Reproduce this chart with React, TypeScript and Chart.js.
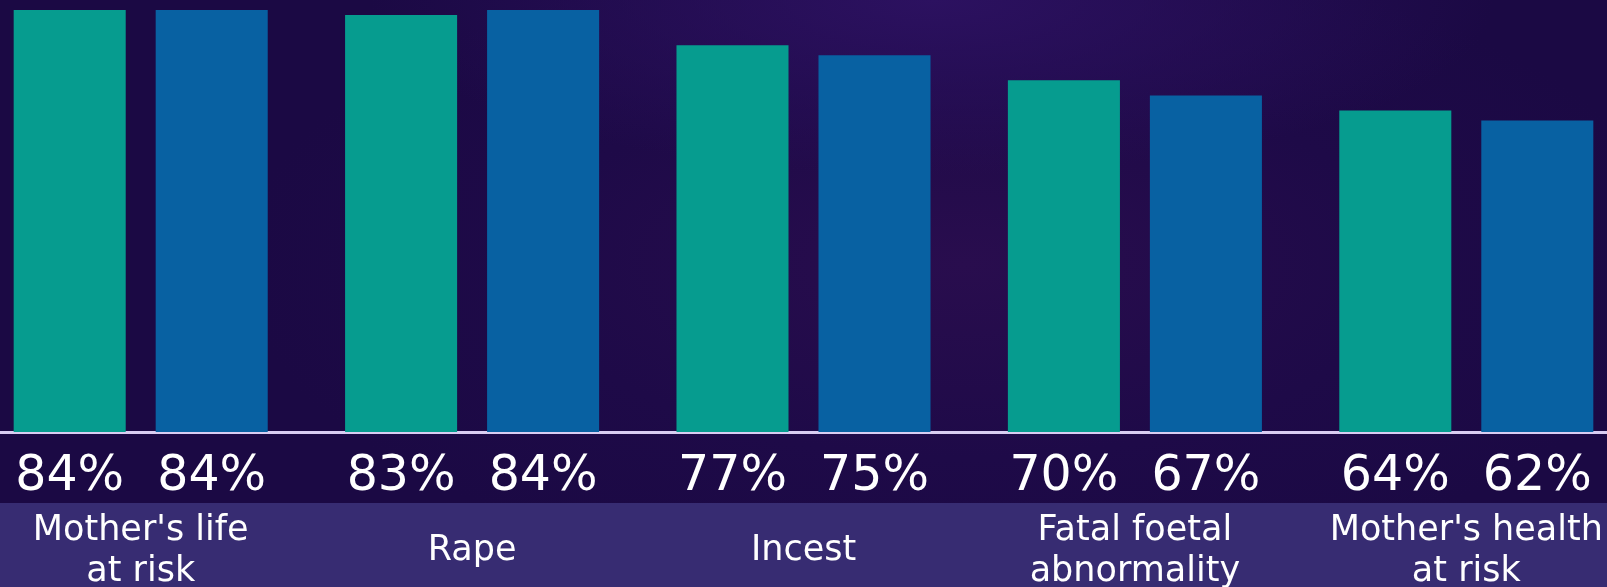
import React, { useEffect, useRef } from 'react';
import { Chart, registerables } from 'chart.js';

Chart.register(...registerables);

// categorías (dos líneas cuando hace falta)
const categories: string[][] = [
  ["Mother's life", 'at risk'],
  ['Rape'],
  ['Incest'],
  ['Fatal foetal', 'abnormality'],
  ["Mother's health", 'at risk'],
];

// valores en porcentaje
const seriesA = [84, 83, 77, 70, 64];
const seriesB = [84, 84, 75, 67, 62];

const TEAL = '#069c8f';
const BLUE = '#0861a2';
const BAND = '#372c72';
const LINE = '#d9cdf2';
const FONT = "'DejaVu Sans', Verdana, sans-serif";

// dibuja la banda inferior, los porcentajes y las etiquetas de categoría
const labelsPlugin = {
  id: 'labelsPlugin',
  beforeDraw(chart: any) {
    const { ctx, width, height } = chart;
    ctx.save();
    ctx.fillStyle = BAND;
    ctx.fillRect(0, 503, width, height - 503);
    ctx.restore();
  },
  afterDraw(chart: any) {
    const { ctx } = chart;
    const xScale = chart.scales.x;
    ctx.save();
    ctx.fillStyle = '#ffffff';
    ctx.textAlign = 'center';
    ctx.textBaseline = 'middle';

    // porcentajes debajo de cada barra
    ctx.font = `49px ${FONT}`;
    chart.data.datasets.forEach((ds: any, di: number) => {
      const meta = chart.getDatasetMeta(di);
      meta.data.forEach((bar: any, i: number) => {
        ctx.fillText(`${ds.data[i]}%`, bar.x, 477);
      });
    });

    // nombres de categoría
    ctx.font = `35px ${FONT}`;
    const lineH = 41;
    categories.forEach((lines, i) => {
      const x = xScale.getPixelForValue(i);
      const mid = 551;
      const start = mid - ((lines.length - 1) * lineH) / 2;
      lines.forEach((t, li) => ctx.fillText(t, x, start + li * lineH));
    });
    ctx.restore();
  },
};

const App: React.FC = () => {
  const canvasRef = useRef<HTMLCanvasElement>(null);
  const chartRef = useRef<Chart | null>(null);

  useEffect(() => {
    document.body.style.margin = '0';
    if (!canvasRef.current) return;
    const ctx = canvasRef.current.getContext('2d');
    if (!ctx) return;

    chartRef.current = new Chart(ctx, {
      type: 'bar',
      data: {
        labels: categories.map((c) => c.join(' ')),
        datasets: [
          {
            label: 'A',
            data: seriesA,
            backgroundColor: TEAL,
            categoryPercentage: 0.857,
            barPercentage: 0.789,
          },
          {
            label: 'B',
            data: seriesB,
            backgroundColor: BLUE,
            categoryPercentage: 0.857,
            barPercentage: 0.789,
          },
        ],
      },
      options: {
        responsive: true,
        maintainAspectRatio: false,
        animation: false,
        layout: { padding: 0 },
        plugins: {
          legend: { display: false },
          tooltip: { enabled: false },
        },
        scales: {
          x: {
            grid: { display: false, drawTicks: false },
            border: { display: true, color: LINE, width: 3 },
            ticks: { display: false },
            afterFit: (scale: any) => {
              scale.height = 155;
            },
          },
          y: {
            display: false,
            min: 0,
            max: 86,
          },
        },
      },
      plugins: [labelsPlugin],
    });

    return () => {
      chartRef.current?.destroy();
      chartRef.current = null;
    };
  }, []);

  return (
    <div
      style={{
        position: 'fixed',
        left: 0,
        top: 0,
        width: 1607,
        height: 587,
        overflow: 'hidden',
        background:
          'radial-gradient(ellipse 35% 30% at 58% 0%, #2c1160 0%, rgba(44,17,96,0) 100%), radial-gradient(ellipse 45% 55% at 60% 45%, #290d4e 0%, #1e0a48 60%, #1b0944 100%)',
      }}
    >
      <div style={{ position: 'absolute', left: -25, top: 0, width: 1657, height: 587 }}>
        <canvas ref={canvasRef}></canvas>
      </div>
    </div>
  );
};

export default App;
